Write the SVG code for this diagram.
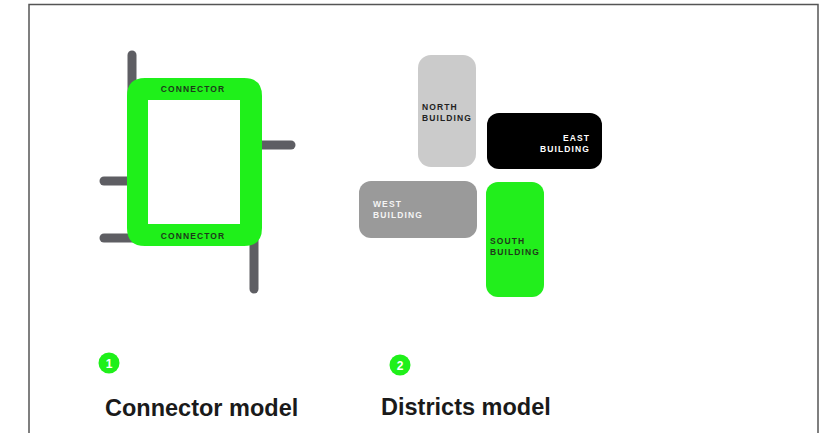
<svg xmlns="http://www.w3.org/2000/svg" width="832" height="433" viewBox="0 0 832 433">
<style>
.road{stroke:#5e5e63;stroke-width:9;stroke-linecap:round;fill:none}
.tiny{font-family:"Liberation Sans",Arial,sans-serif;font-size:8.5px;font-weight:bold;letter-spacing:1.1px}
.cap{font-family:"Liberation Sans",Arial,sans-serif;font-size:23.5px;font-weight:bold;fill:#1a1a1a}
.num{font-family:"Liberation Sans",Arial,sans-serif;font-size:12px;font-weight:bold;fill:#ffffff}
</style>
<rect x="0" y="0" width="832" height="433" fill="#ffffff"/>
<path d="M29 440 V4.5 H818 V440" fill="none" stroke="#555" stroke-width="1.5"/>
<g id="connectors">
<line class="road" x1="132" y1="55" x2="132" y2="120"/>
<line class="road" x1="262" y1="145" x2="291" y2="145"/>
<line class="road" x1="104" y1="181" x2="130" y2="181"/>
<line class="road" x1="104" y1="238" x2="140" y2="238"/>
<line class="road" x1="254" y1="230" x2="254" y2="289"/>
</g>
<g id="connector-ring">
<path d="M145 78 H244 Q262 78 262 96 V228 Q262 246 244 246 H145 Q127 246 127 228 V96 Q127 78 145 78 Z M148 100 V224 H240 V100 Z" fill="#1ff01a" fill-rule="evenodd"/>
<text class="tiny" x="193" y="92" text-anchor="middle" fill="#1d3a1a">CONNECTOR</text>
<text class="tiny" x="193" y="239" text-anchor="middle" fill="#1d3a1a">CONNECTOR</text>
</g>
<g id="north">
<rect x="418" y="55" width="58" height="112" rx="13" fill="#cbcbcb"/>
<text class="tiny" x="422" y="110" fill="#222">NORTH</text>
<text class="tiny" x="422" y="121" fill="#222">BUILDING</text>
</g>
<g id="east">
<rect x="487" y="113" width="115" height="56" rx="12" fill="#000000"/>
<text class="tiny" x="590" y="141" text-anchor="end" fill="#ffffff">EAST</text>
<text class="tiny" x="590" y="152" text-anchor="end" fill="#ffffff">BUILDING</text>
</g>
<g id="west">
<rect x="359" y="181" width="118" height="57" rx="12" fill="#9a9a9a"/>
<text class="tiny" x="373" y="207" fill="#f4f4f4">WEST</text>
<text class="tiny" x="373" y="218" fill="#f4f4f4">BUILDING</text>
</g>
<g id="south">
<rect x="486" y="182" width="58" height="115" rx="12" fill="#22ee1c"/>
<text class="tiny" x="490" y="244" fill="#1f3a1a">SOUTH</text>
<text class="tiny" x="490" y="255" fill="#1f3a1a">BUILDING</text>
</g>
<g id="badge1">
<circle cx="109" cy="363" r="10.5" fill="#1ff01a"/>
<text class="num" x="109" y="367.5" text-anchor="middle">1</text>
</g>
<g id="badge2">
<circle cx="400" cy="365" r="10.5" fill="#1ff01a"/>
<text class="num" x="400" y="369.5" text-anchor="middle">2</text>
</g>
<text class="cap" x="105" y="416">Connector model</text>
<text class="cap" x="381" y="415">Districts model</text>
</svg>
